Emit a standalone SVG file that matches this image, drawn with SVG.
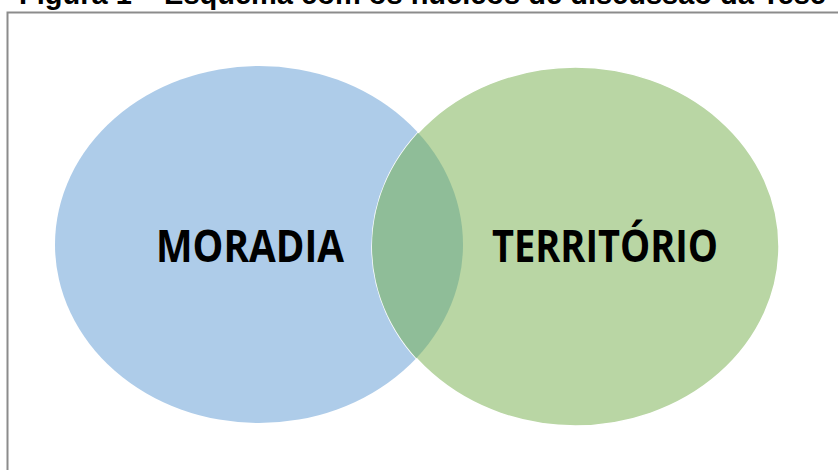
<svg xmlns="http://www.w3.org/2000/svg" width="838" height="470" viewBox="0 0 838 470">
<style>
.title{font-family:"Liberation Sans",Arial,sans-serif;font-weight:bold;font-size:29px;fill:#000}
.lbl{font-family:"Open Sans","Noto Sans",sans-serif;font-weight:bold;font-size:44px;fill:#000}
</style>
<defs>
<clipPath id="blueClip"><ellipse cx="259" cy="244.5" rx="204" ry="178.5"/></clipPath>
</defs>
<rect width="838" height="470" fill="#fff"/>
<text class="title" x="19" y="4">Figura 1 – Esquema com os núcleos de discussão da Tese</text>
<path d="M7.5 470 V12.5 H838" fill="none" stroke="#8c8c8c" stroke-width="2"/>
<g id="moradia">
<ellipse cx="259" cy="244.5" rx="204" ry="178.5" fill="#aecce9"/>
</g>
<g id="territorio">
<ellipse cx="575.5" cy="246.5" rx="203.5" ry="179.5" fill="#b9d6a4" stroke="#fff" stroke-width="1.5"/>
<ellipse cx="575.5" cy="246.5" rx="203.5" ry="179.5" fill="#8fbd98" clip-path="url(#blueClip)"/>
</g>
<g id="labels">
<text class="lbl" x="156" y="262" textLength="188" lengthAdjust="spacingAndGlyphs">MORADIA</text>
<text class="lbl" x="492" y="262" textLength="226" lengthAdjust="spacingAndGlyphs">TERRITÓRIO</text>
</g>
</svg>
